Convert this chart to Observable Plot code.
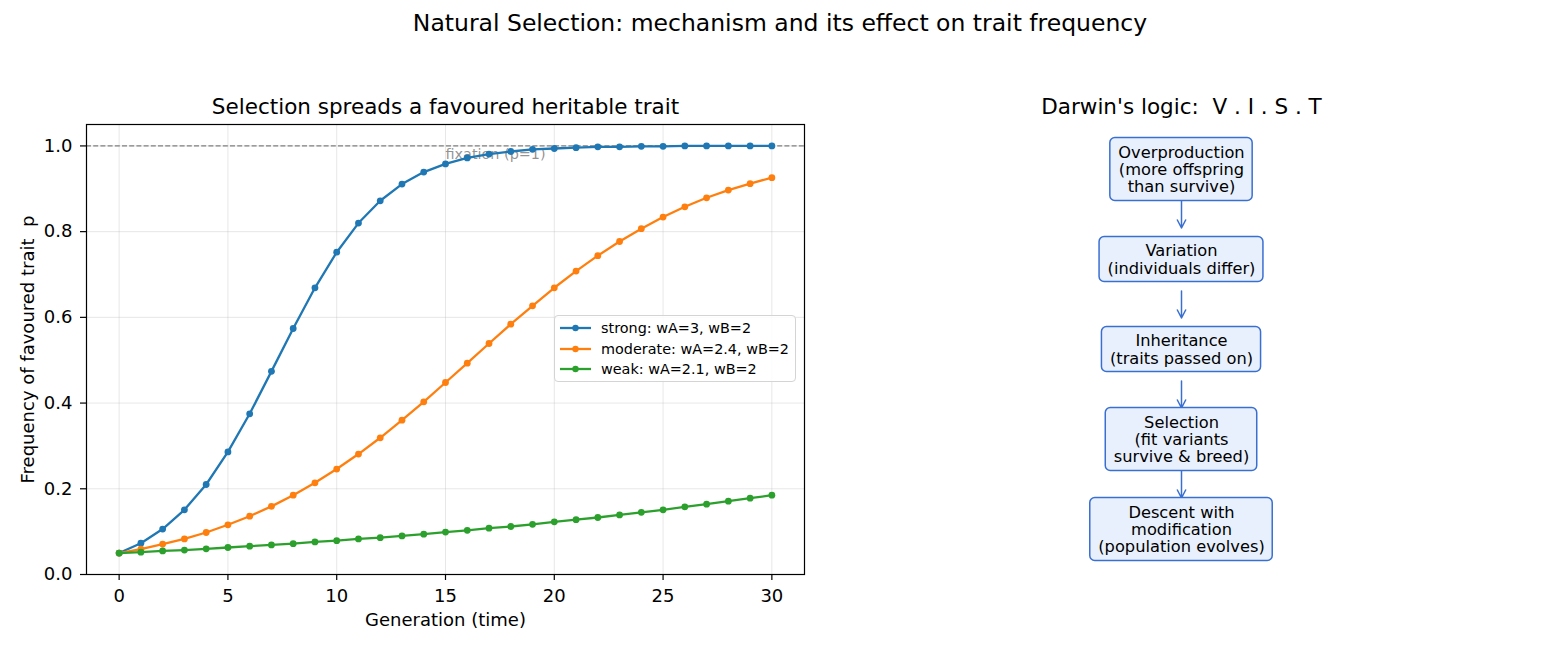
<!DOCTYPE html>
<html><head><meta charset="utf-8">
<script src="https://cdn.jsdelivr.net/npm/d3@7"></script>
<script src="https://cdn.jsdelivr.net/npm/@observablehq/plot@0.6"></script>
<style>
body{margin:0;background:#fff;font-family:"DejaVu Sans",sans-serif;}
#fig{position:relative;width:1560px;height:650px;overflow:hidden;background:#fff;}
#fig svg{position:absolute;top:0;}
#fig svg text{white-space:pre;}
#title{position:absolute;left:0;width:1560px;top:12px;text-align:center;font-size:23.5px;line-height:1;color:#000;}
#legend{position:absolute;left:554px;top:315px;width:242px;height:67px;border:1px solid #d4d4d4;border-radius:4px;background:rgba(255,255,255,0.85);box-sizing:border-box;}
.lg-row{position:absolute;left:0;height:20px;font-size:14.4px;line-height:20px;color:#000;white-space:nowrap;}
.lg-row svg{position:absolute;left:4px;top:0;}
.lg-row span{position:absolute;left:46px;top:0;}
</style></head><body>
<div id="fig"><div id="title">Natural Selection: mechanism and its effect on trait frequency</div></div>
<script>
// ---- data ----
const generations = [0,1,2,3,4,5,6,7,8,9,10,11,12,13,14,15,16,17,18,19,20,21,22,23,24,25,26,27,28,29,30];
const strong   = [0.050,0.073,0.106,0.151,0.210,0.286,0.375,0.474,0.574,0.669,0.752,0.820,0.872,0.911,0.939,0.958,0.972,0.981,0.987,0.992,0.994,0.996,0.998,0.998,0.999,0.999,1.000,1.000,1.000,1.000,1.000];
const moderate = [0.050,0.059,0.071,0.083,0.098,0.116,0.136,0.159,0.185,0.214,0.246,0.281,0.319,0.360,0.403,0.448,0.493,0.539,0.584,0.627,0.669,0.708,0.744,0.777,0.807,0.834,0.858,0.879,0.897,0.912,0.926];
const weak     = [0.050,0.052,0.055,0.057,0.060,0.063,0.066,0.069,0.072,0.076,0.079,0.083,0.086,0.090,0.094,0.099,0.103,0.108,0.112,0.117,0.123,0.128,0.133,0.139,0.145,0.151,0.158,0.164,0.171,0.178,0.185];
const seriesNames = ["strong: wA=3, wB=2","moderate: wA=2.4, wB=2","weak: wA=2.1, wB=2"];
const seriesColors = ["#1f77b4","#ff7f0e","#2ca02c"];
const xTicks = [0,5,10,15,20,25,30];
const yTicks = [0,0.2,0.4,0.6,0.8,1.0];
const fixationLevel = 1.0;
const fixationLabel = "fixation (p=1)";
const leftTitle = "Selection spreads a favoured heritable trait";
const xLabel = "Generation (time)";
const yLabel = "Frequency of favoured trait  p";
const rightTitle = "Darwin's logic:  V . I . S . T";
const steps = [
  "Overproduction\n(more offspring\nthan survive)",
  "Variation\n(individuals differ)",
  "Inheritance\n(traits passed on)",
  "Selection\n(fit variants\nsurvive & breed)",
  "Descent with\nmodification\n(population evolves)"
];

// ---- build tables ----
const seriesValues = [strong, moderate, weak];
const rows = seriesValues.flatMap((vals, s) => vals.map((p, i) => ({gen: generations[i], p, series: seriesNames[s]})));
const color = {domain: seriesNames, range: seriesColors};

const fig = document.getElementById("fig");

// ---- left chart ----
const seriesMarks = seriesNames.flatMap(name => {
  const d = rows.filter(r => r.series === name);
  return [
    Plot.line(d, {x: "gen", y: "p", stroke: "series", strokeWidth: 2.3}),
    Plot.dot(d, {x: "gen", y: "p", fill: "series", r: 3.4})
  ];
});

const left = Plot.plot({
  width: 830, height: 650,
  marginLeft: 86, marginRight: 26, marginTop: 124, marginBottom: 76,
  style: {fontFamily: "DejaVu Sans", fontSize: "18px", background: "transparent", color: "#000"},
  color,
  x: {domain: [-1.5, 31.5], label: null},
  y: {domain: [0, 1.05], label: null},
  marks: [
    Plot.gridX(xTicks, {stroke: "#b0b0b0", strokeOpacity: 0.3, strokeWidth: 1}),
    Plot.gridY(yTicks, {stroke: "#b0b0b0", strokeOpacity: 0.3, strokeWidth: 1}),
    Plot.ruleY([fixationLevel], {stroke: "gray", strokeDasharray: "5,2.2", strokeWidth: 1.2}),
    Plot.text([fixationLabel], {x: 15, y: 0.97, textAnchor: "start", lineAnchor: "bottom", fill: "gray", fillOpacity: 0.85, fontSize: 14.4}),
    ...seriesMarks,
    Plot.axisX(xTicks, {tickSize: 6, tickPadding: 9, strokeWidth: 1.2, tickFormat: d => String(d), label: null}),
    Plot.axisY(yTicks, {tickSize: 6, tickPadding: 8, strokeWidth: 1.2, tickFormat: d3.format(".1f"), label: null}),
    Plot.frame({stroke: "black", strokeWidth: 1.2}),
    Plot.text([leftTitle], {frameAnchor: "top", dy: -11, lineAnchor: "bottom", fontSize: 21.5}),
    Plot.text([xLabel], {frameAnchor: "bottom", dy: 46, lineAnchor: "middle", fontSize: 18}),
    Plot.text([yLabel], {frameAnchor: "left", dx: -58, rotate: -90, textAnchor: "middle", lineAnchor: "middle", fontSize: 18})
  ]
});
left.style.left = "0px";
fig.appendChild(left);

// ---- legend ----
const legend = document.createElement("div");
legend.id = "legend";
seriesNames.forEach((name, i) => {
  const row = document.createElement("div");
  row.className = "lg-row";
  row.style.top = (2 + i * 20.7) + "px";
  row.innerHTML = `<svg width="34" height="20"><line x1="1" x2="32" y1="10" y2="10" stroke="${seriesColors[i]}" stroke-width="2.3"/><circle cx="16.5" cy="10" r="3.2" fill="${seriesColors[i]}"/></svg><span>${name}</span>`;
  legend.appendChild(row);
});
fig.appendChild(legend);

// ---- right flowchart ----
const RW = 562, RTop = 124, RBottom = 76, RH = 650 - RTop - RBottom;
const boxFont = 16.25, linePitch = 17.3;
const ctx = document.createElement("canvas").getContext("2d");
ctx.font = `${boxFont}px "DejaVu Sans"`;
const boxes = steps.map((label, i) => {
  const lines = label.split("\n");
  const w = d3.max(lines, l => ctx.measureText(l).width) + 16;
  const h = lines.length * 18 + 9;
  const cy = 0.9 - 0.2 * i;
  return {label, cx: 0.5, cy, x1: 0.5 - w / 2 / RW, x2: 0.5 + w / 2 / RW, y1: cy - h / 2 / RH, y2: cy + h / 2 / RH};
});
const arrows = boxes.slice(0, -1).map((b, i) => ({x: 0.5, y1: b.cy - 0.07, y2: boxes[i + 1].cy + 0.07}));

const right = Plot.plot({
  width: RW, height: 650,
  marginLeft: 0, marginRight: 0, marginTop: RTop, marginBottom: RBottom,
  style: {fontFamily: "DejaVu Sans", fontSize: "16.25px", background: "transparent", color: "#000"},
  x: {domain: [0, 1], axis: null},
  y: {domain: [0, 1], axis: null},
  marks: [
    Plot.arrow(arrows, {x1: "x", x2: "x", y1: "y1", y2: "y2", stroke: "#3a6fd2", strokeWidth: 1.5, headLength: 9, headAngle: 55}),
    Plot.rect(boxes, {x1: "x1", x2: "x2", y1: "y1", y2: "y2", fill: "#e8f0fd", stroke: "#3a6fd2", strokeWidth: 1.5, rx: 5}),
    Plot.text(boxes, {x: "cx", y: "cy", text: "label", lineAnchor: "middle", lineHeight: linePitch / boxFont, fontSize: boxFont, fill: "#000"}),
    Plot.text([rightTitle], {frameAnchor: "top", dy: -11, lineAnchor: "bottom", fontSize: 21.5})
  ]
});
right.style.left = "900px";
fig.appendChild(right);
</script>
</body></html>
